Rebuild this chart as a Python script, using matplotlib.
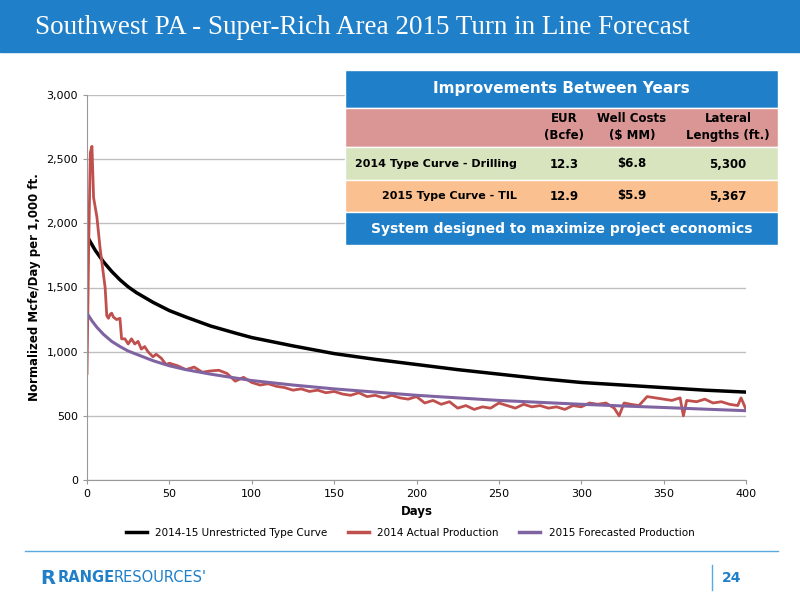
import matplotlib
matplotlib.use("Agg")
import matplotlib.pyplot as plt
from matplotlib.patches import Rectangle
from matplotlib.lines import Line2D

type_days = [0, 5, 10, 15, 20, 25, 30, 40, 50, 60, 75, 90, 100, 125, 150, 175, 200, 225, 250, 275, 300, 325, 350, 375, 400]
type_vals = [1900, 1790, 1700, 1625, 1560, 1505, 1460, 1385, 1320, 1270, 1200, 1145, 1110, 1045, 985, 940, 900, 860,
             825, 790, 760, 740, 720, 700, 685]
fc_days = [0, 3, 6, 10, 15, 20, 25, 30, 40, 50, 60, 75, 90, 100, 125, 150, 175, 200, 225, 250, 275, 300, 325, 350, 375, 400]
fc_vals = [1300, 1240, 1190, 1135, 1080, 1040, 1005, 980, 930, 890, 860, 825, 795, 775, 740, 710, 685, 660, 640, 620,
           605, 590, 577, 565, 552, 540]
act_days = [0, 1, 2, 3, 4, 6, 8, 10, 11, 12, 13, 14, 15, 16, 18, 20, 21, 23, 25, 27, 29, 31, 33, 35, 37, 40, 42, 45, 48,
            50, 55, 60, 65, 70, 75, 80, 85, 90, 95, 100, 105, 110, 115, 120, 125, 130, 135, 140, 145, 150, 155, 160,
            165, 170, 175, 180, 185, 190, 195, 200, 205, 210, 215, 220, 225, 230, 235, 240, 245, 250, 255, 260, 265,
            270, 275, 280, 285, 290, 295, 300, 305, 310, 315, 320, 323, 326, 330, 335, 340, 345, 350, 355, 360, 362,
            364, 370, 375, 380, 385, 390, 395, 397, 400]
act_vals = [830, 1800, 2550, 2600, 2200, 2050, 1800, 1600, 1500, 1280, 1260, 1290, 1300, 1270, 1250, 1260, 1100, 1100,
            1060, 1100, 1060, 1080, 1020, 1040, 1000, 960, 980, 950, 900, 910, 890, 860, 880, 840, 850, 855, 830, 770,
            800, 760, 740, 750, 730, 720, 700, 710, 690, 700, 680, 690, 670, 660, 680, 650, 660, 640, 660, 640, 630,
            650, 600, 620, 590, 610, 560, 580, 550, 570, 560, 600, 580, 560, 590, 570, 580, 560, 570, 550, 580, 570,
            600, 590, 600, 560, 500, 600, 590, 580, 650, 640, 630, 620, 640, 500, 620, 610, 630, 600, 610, 590, 580,
            640, 550]

col_headers = ["EUR\n(Bcfe)", "Well Costs\n($ MM)", "Lateral\nLengths (ft.)"]
row_labels = ["2014 Type Curve - Drilling", "2015 Type Curve - TIL"]
table_vals = [["12.3", "$6.8", "5,300"], ["12.9", "$5.9", "5,367"]]

fig = plt.figure(figsize=(8, 6), dpi=100)
W, H = 800, 600
def fx(x): return x / W
def fy(y): return 1 - y / H

blue = "#1f7fc8"
fig.patches.append(Rectangle((0, fy(52)), 1, 52 / H, transform=fig.transFigure, color=blue))
fig.text(fx(35), fy(28), "Southwest PA - Super-Rich Area 2015 Turn in Line Forecast", color="white",
         fontsize=19.5, family="Liberation Serif", va="center")

ax = fig.add_axes([fx(87), fy(480), (746 - 87) / W, (480 - 95) / H])
ax.plot(type_days, type_vals, color="black", lw=2.5)
ax.plot(act_days, act_vals, color="#c0504d", lw=2.0)
ax.plot(fc_days, fc_vals, color="#8064a2", lw=2.2)
ax.set_xlim(0, 400); ax.set_ylim(0, 3000)
ax.set_xticks(range(0, 401, 50))
ax.set_yticks(range(0, 3001, 500))
ax.set_yticklabels([f"{v:,}" for v in range(0, 3001, 500)])
ax.grid(axis="y", color="#bfbfbf", lw=1)
ax.set_axisbelow(True)
for s in ["top", "right"]: ax.spines[s].set_visible(False)
ax.spines["left"].set_color("#999999"); ax.spines["bottom"].set_color("#999999")
ax.tick_params(labelsize=8, length=3, color="#999999")
ax.set_xlabel("Days", fontsize=8.5, fontweight="bold")
ax.set_ylabel("Normalized Mcfe/Day per 1,000 ft.", fontsize=8.5, fontweight="bold")

handles = [Line2D([], [], color="black", lw=2.5), Line2D([], [], color="#c0504d", lw=2.5),
           Line2D([], [], color="#8064a2", lw=2.5)]
fig.legend(handles, ["2014-15 Unrestricted Type Curve", "2014 Actual Production", "2015 Forecasted Production"],
           loc="center", bbox_to_anchor=(fx(410), fy(533)), ncol=3, frameon=False, fontsize=7.5, handlelength=2)

fig.add_artist(Line2D([fx(25), fx(778)], [fy(551), fy(551)], color="#5aa9dc", lw=1, transform=fig.transFigure))
fig.add_artist(Line2D([fx(712), fx(712)], [fy(565), fy(590)], color="#5aa9dc", lw=1, transform=fig.transFigure))
fig.text(fx(722), fy(578), "24", color=blue, fontsize=10, va="center", fontweight="bold")
fig.text(fx(40), fy(578), "R", color=blue, fontsize=14, va="center", fontweight="bold")
fig.text(fx(58), fy(578), "RANGE", color=blue, fontsize=10.5, va="center", fontweight="bold")
fig.text(fx(114), fy(578), "RESOURCES'", color=blue, fontsize=10.5, va="center")

# table
x0, x1 = 345, 778
rows = [(70, 108, blue), (108, 147, "#d99694"), (147, 180, "#d7e4bd"), (180, 212, "#fac090"), (212, 245, blue)]
for (ya, yb, c) in rows:
    fig.patches.append(Rectangle((fx(x0), fy(yb)), (x1 - x0) / W, (yb - ya) / H, transform=fig.transFigure,
                                 facecolor=c, edgecolor="white", lw=1))
fig.text(fx((x0 + x1) / 2), fy(89), "Improvements Between Years", color="white", fontsize=11, fontweight="bold",
         ha="center", va="center")
fig.text(fx((x0 + x1) / 2), fy(229), "System designed to maximize project economics", color="white", fontsize=10,
         fontweight="bold", ha="center", va="center")
colx = [564, 632, 728]
for cx, h in zip(colx, col_headers):
    fig.text(fx(cx), fy(127), h, fontsize=8.5, fontweight="bold", ha="center", va="center", linespacing=1.4)
for ry, lab, vals in zip([164, 196], row_labels, table_vals):
    fig.text(fx(517), fy(ry), lab, fontsize=8, fontweight="bold", ha="right", va="center")
    for cx, v in zip(colx, vals):
        fig.text(fx(cx), fy(ry), v, fontsize=8.5, fontweight="bold", ha="center", va="center")

fig.savefig("out.png", dpi=100)
